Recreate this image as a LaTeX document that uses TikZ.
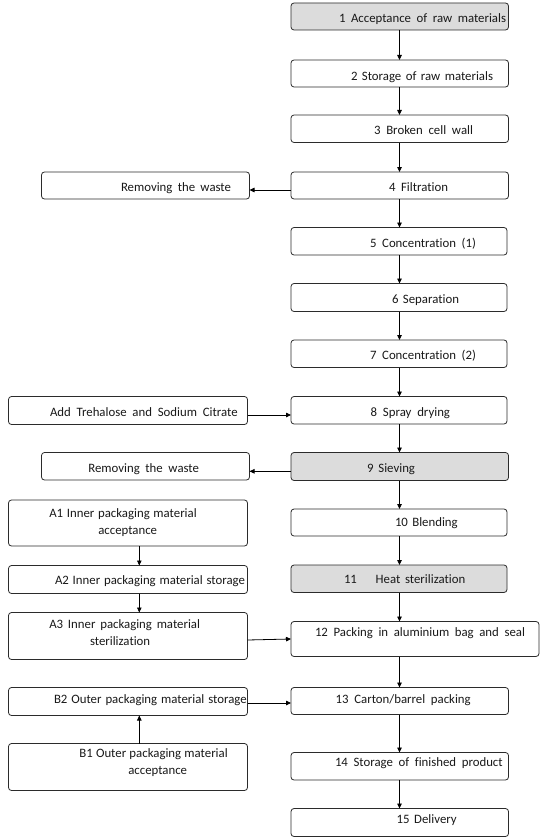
\documentclass[tikz,border=0pt]{standalone}
\usepackage{fontspec}
\setmainfont{Carlito}[Ligatures=NoCommon]
\usetikzlibrary{arrows.meta}
\definecolor{boxgrey}{HTML}{DCDCDC}
\definecolor{edge}{HTML}{2B2B2B}
\newcommand\mkbox[6]{%
  \pgfmathsetmacro\bxw{#4-#2}\pgfmathsetmacro\bxh{#5-#3}%
  \pgfmathsetmacro\bxx{(#2+#4)/2}\pgfmathsetmacro\bxy{(#3+#5)/2}%
  \node[box,#6,minimum width=\bxw pt,minimum height=\bxh pt] (#1) at (\bxx,\bxy) {};}
\newcommand\mktxt[5]{\node[lbl] (#1) at (#2,{#3+4.3}) {\makebox[#4pt][s]{#5}};}
\begin{document}
\begin{tikzpicture}[x=1pt,y=-1pt,
  box/.style={draw=edge,line width=0.8pt,rounded corners=3pt,inner sep=0pt,outer sep=0pt,fill=white},
  greybox/.style={fill=boxgrey},
  lbl/.style={anchor=base west,inner sep=0pt,outer sep=0pt,font=\fontsize{12.8}{15}\selectfont,text=black!90},
  arr/.style={draw=black,line width=0.8pt,-{Triangle[length=5pt,width=4.5pt]}}]
\fill[white] (0,0) rectangle (546,840);
\useasboundingbox (0,0) rectangle (546,840);
\coordinate (ax) at (399.5,0);
\coordinate (lx) at (139.3,0);
% right column
\mkbox{b1}{291}{3}{508.5}{30}{greybox}
\mkbox{b2}{291}{60}{508.5}{87}{}
\mkbox{b3}{291}{115}{508.5}{142.5}{}
\mkbox{b4}{291}{172}{508.5}{199}{}
\mkbox{b5}{291}{227.5}{507}{255}{}
\mkbox{b6}{291}{283.5}{507}{311.5}{}
\mkbox{b7}{291}{340}{507}{367.5}{}
\mkbox{b8}{291}{396.5}{507}{424}{}
\mkbox{b9}{291}{452.5}{508.5}{480.5}{greybox}
\mkbox{b10}{291}{509}{507}{536}{}
\mkbox{b11}{291}{565}{507}{592.5}{greybox}
\mkbox{b12}{291}{621.5}{539}{656.5}{}
\mkbox{b13}{291}{687.5}{508.5}{714.5}{}
\mkbox{b14}{291}{752.5}{508.5}{780}{}
\mkbox{b15}{291}{808.5}{508.5}{836.5}{}
% left column
\mkbox{w1}{41.5}{172}{249.5}{199}{}
\mkbox{add}{8.5}{396.5}{247.5}{424.5}{}
\mkbox{w2}{41.5}{452.5}{249.5}{480}{}
\mkbox{a1}{8.5}{500}{247.5}{546}{}
\mkbox{a2}{8.5}{565.5}{247.5}{593.5}{}
\mkbox{a3}{8.5}{612.5}{247.5}{659.5}{}
\mkbox{c2}{8.5}{687.5}{247.5}{715.5}{}
\mkbox{c1}{8.5}{743.5}{247.5}{790.5}{}
% texts right
\mktxt{t1}{339}{18}{167}{1 Acceptance of raw materials}
\mktxt{t2}{351}{76}{142}{2 Storage of raw materials}
\mktxt{t3}{374}{130.7}{99}{3 Broken cell wall}
\mktxt{t4}{389}{187.3}{59}{4 Filtration}
\mktxt{t5}{370}{243.3}{106}{5 Concentration (1)}
\mktxt{t6}{392}{299.3}{67}{6 Separation}
\mktxt{t7}{370}{355}{106}{7 Concentration (2)}
\mktxt{t8}{370.7}{411.7}{79.3}{8 Spray drying}
\mktxt{t9}{367}{467.7}{48}{9 Sieving}
\mktxt{t10}{395}{522.3}{62.7}{10 Blending}
\mktxt{t11a}{344}{579}{11}{11}
\mktxt{t11b}{375.7}{579}{89.6}{Heat sterilization}
\mktxt{t12}{315}{631.7}{210}{12 Packing in aluminium bag and seal}
\mktxt{t13}{335.7}{699.3}{135}{13 Carton/barrel packing}
\mktxt{t14}{335}{761.7}{167.7}{14 Storage of finished product}
\mktxt{t15}{396.7}{819}{60}{15 Delivery}
% texts left
\mktxt{tw1}{121}{186.7}{110}{Removing the waste}
\mktxt{tadd}{50}{412.3}{187.7}{Add Trehalose and Sodium Citrate}
\mktxt{tw2}{88.3}{468.3}{110.7}{Removing the waste}
\mktxt{ta1a}{49.3}{513.3}{147.4}{A1 Inner packaging material}
\mktxt{ta1b}{98.3}{530}{57.7}{acceptance}
\mktxt{ta2}{55}{580}{190}{A2 Inner packaging material storage}
\mktxt{ta3a}{49.3}{624}{150.7}{A3 Inner packaging material}
\mktxt{ta3b}{90}{641}{60.7}{sterilization}
\mktxt{tc2}{54}{699.3}{192.7}{B2 Outer packaging material storage}
\mktxt{tc1a}{79.3}{753.3}{148.4}{B1 Outer packaging material}
\mktxt{tc1b}{128.3}{770}{57.7}{acceptance}
% vertical arrows right
\foreach \p/\q in {b1/b2,b2/b3,b3/b4,b4/b5,b5/b6,b6/b7,b7/b8,b8/b9,b9/b10,b10/b11,b11/b12,b12/b13,b13/b14,b14/b15}
  \draw[arr] (ax |- \p.south) -- (ax |- \q.north);
% side arrows
\draw[arr] ([yshift=-4.5pt]b4.west) -- ([yshift=-4.5pt]b4.west -| w1.east);
\draw[arr] ([yshift=-4.5pt]add.east) -- ([yshift=-4.5pt]add.east -| b8.west);
\draw[arr] ([yshift=-4.8pt]b9.west) -- ([yshift=-4.8pt]b9.west -| w2.east);
\draw[arr] (lx |- a1.south) -- (lx |- a2.north);
\draw[arr] (lx |- a2.south) -- (lx |- a3.north);
\draw[arr] ([yshift=-4pt]a3.east) -- (b12.west);
\draw[arr] ([yshift=-1.5pt]c2.east) -- ([yshift=-1.5pt]c2.east -| b13.west);
\draw[arr] (lx |- c1.north) -- (lx |- c2.south);
\end{tikzpicture}
\end{document}
